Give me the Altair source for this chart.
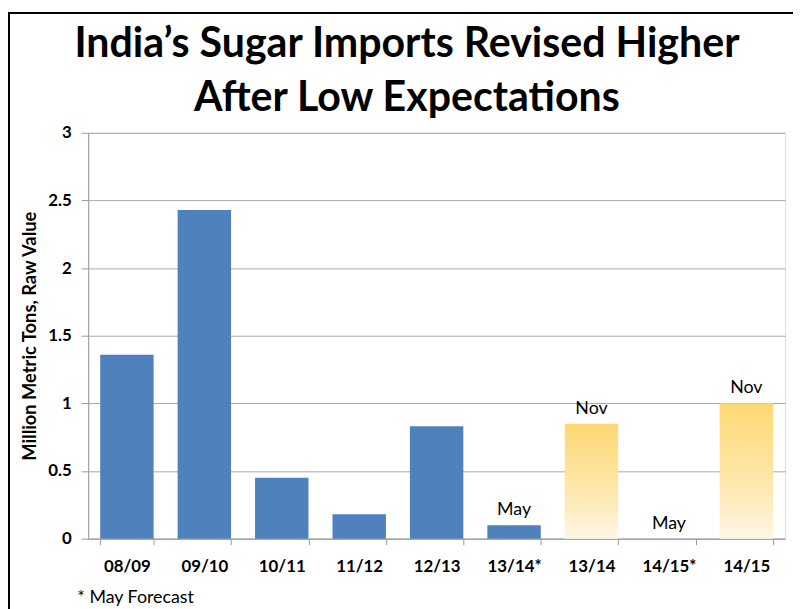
import altair as alt
import pandas as pd

categories = ["08/09", "09/10", "10/11", "11/12", "12/13", "13/14*", "13/14", "14/15*", "14/15"]
values = [1.36, 2.43, 0.45, 0.18, 0.83, 0.10, 0.85, 0.0, 1.00]
labels = ["", "", "", "", "", "May", "Nov", "May", "Nov"]
kinds = ["hist", "hist", "hist", "hist", "hist", "hist", "rev", "hist", "rev"]
y_ticks = [0, 0.5, 1, 1.5, 2, 2.5, 3]
title_text = "India’s Sugar Imports Revised Higher\nAfter Low Expectations"
footnote = "* May Forecast"

df = pd.DataFrame({"cat": categories, "val": values, "lab": labels, "kind": kinds})

FONT = "Lato, 'Open Sans', sans-serif"

x_enc = alt.X("cat:N", sort=categories, title=None,
              scale=alt.Scale(paddingInner=0.31, paddingOuter=0.155),
              axis=alt.Axis(labelAngle=0, labelFont=FONT, labelFontWeight="bold",
                            labelFontSize=17, labelColor="#000", labelPadding=14,
                            tickBand="extent", tickSize=6, tickColor="#999",
                            domainColor="#999", grid=False))
y_enc = alt.Y("val:Q", title="Million Metric Tons, Raw Value",
              scale=alt.Scale(domain=[0, 3], nice=False),
              axis=alt.Axis(values=y_ticks, format="~g", labelFont=FONT, labelFontWeight="bold",
                            labelFontSize=17, labelColor="#000", labelPadding=10,
                            tickSize=7, tickColor="#999", domainColor="#999",
                            gridColor="#a8a8a8", titleFont=FONT, titleFontSize=18.5,
                            titleFontWeight="bold", titleColor="#000", titlePadding=8))

base = alt.Chart(df)

hist_bars = base.transform_filter(alt.datum.kind == "hist").mark_bar(color="#4F81BD").encode(
    x=x_enc, y=y_enc)

grad = alt.Gradient(gradient="linear", x1=0, x2=0, y1=0, y2=1,
                    stops=[alt.GradientStop(color="#FFD873", offset=0),
                           alt.GradientStop(color="#FEE8AE", offset=0.6),
                           alt.GradientStop(color="#FFF6E6", offset=1)])
rev_bars = base.transform_filter(alt.datum.kind == "rev").mark_bar(color=grad).encode(
    x=x_enc, y=y_enc)

text = base.mark_text(baseline="bottom", dy=-6, font=FONT, fontSize=18, color="#000").encode(
    x=alt.X("cat:N", sort=categories), y="val:Q", text="lab:N")

title_df = pd.DataFrame({"t": [title_text]})
title = alt.Chart(title_df).mark_text(align="center", baseline="alphabetic", font=FONT,
                                      fontSize=41.5, fontWeight="bold", color="#000",
                                      lineBreak="\n", lineHeight=55).encode(
    x=alt.value(322), y=alt.value(-77), text="t:N")

note_df = pd.DataFrame({"t": [footnote]})
note = alt.Chart(note_df).mark_text(align="left", baseline="middle", font=FONT,
                                    fontSize=18, color="#000").encode(
    x=alt.value(-11), y=alt.value(470), text="t:N")

border_df = pd.DataFrame({"b": [1]})
border = alt.Chart(border_df).mark_rect(fill="transparent", stroke="#000", strokeWidth=2,
                                        clip=False).encode(
    x=alt.value(-80), x2=alt.value(760), y=alt.value(-121), y2=alt.value(520))

chart = alt.layer(hist_bars, rev_bars, text, title, note, border).properties(
    width=704, height=410,
    autosize=alt.AutoSizeParams(type="none"),
    padding={"left": 81, "top": 123, "right": 8, "bottom": 68},
).configure_view(stroke=None).configure(background="#fff")

chart.save("out.html", embed_options={"renderer": "svg", "actions": False})
